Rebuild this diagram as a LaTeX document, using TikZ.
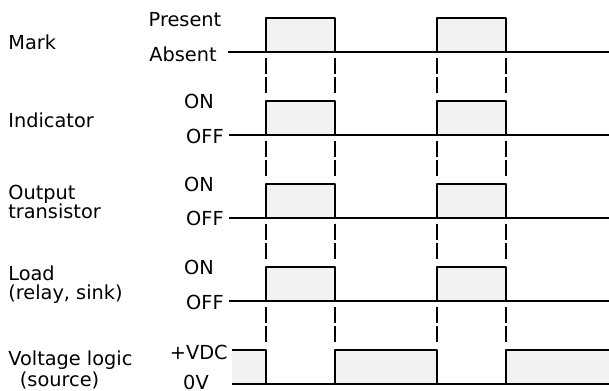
\documentclass[tikz,border=0pt]{standalone}
\usepackage{fontspec}
\setmainfont{DejaVu Sans}
\usepackage{tikz}
\usetikzlibrary{calc}

\tikzset{
  sig/.style={line width=0.9pt, line join=round},
  hifill/.style={fill=black!5},
  edgeline/.style={line width=0.85pt, dash pattern=on 9pt off 2pt,
    shorten <=3.4pt, shorten >=3.4pt},
  rowname/.style={anchor=west, inner sep=0pt, align=left,
    font=\fontsize{11}{13}\selectfont},
  level/.style={inner sep=0pt, font=\fontsize{11}{13}\selectfont}
}

\begin{document}
\begin{tikzpicture}[x=0.02cm,y=-0.02cm]
\useasboundingbox (0,0) rectangle (609,391);

% signal rows 1..4 (pulse while the mark is present)
\foreach \r/\y/\s in {1/52/228,2/135/229,3/218/229,4/301/229} {
  \fill[hifill] (266,\y) rectangle (335,\y-34);
  \fill[hifill] (437,\y) rectangle (506,\y-34);
  \draw[sig] (\s,\y) -- (609,\y);
  \draw[sig] (266,\y) -- (266,\y-34) -- (335,\y-34) -- (335,\y);
  \draw[sig] (437,\y) -- (437,\y-34) -- (506,\y-34) -- (506,\y);
  \foreach \e/\x in {1/266,2/335,3/437,4/506} {
    \coordinate (lo-\r-\e) at (\x,\y);
    \coordinate (hi-\r-\e) at (\x,\y-34);
  }
}

% voltage logic (source), inverted
\fill[hifill] (232,384) rectangle (266,350);
\fill[hifill] (335,384) rectangle (437,350);
\fill[hifill] (506,384) rectangle (609,350);
\draw[sig] (232,384) -- (609,384);
\draw[sig] (232,350) -- (266,350) -- (266,384);
\draw[sig] (335,384) -- (335,350) -- (437,350) -- (437,384);
\draw[sig] (506,384) -- (506,350) -- (609,350);
\foreach \e/\x in {1/266,2/335,3/437,4/506}
  \coordinate (hi-5-\e) at (\x,350);

% dashed timing marks
\foreach \r [evaluate=\r as \n using int(\r+1)] in {1,...,4}
  \foreach \e in {1,...,4}
    \draw[edgeline] (lo-\r-\e) -- (hi-\n-\e);

% labels
\node[rowname] (mark) at (8,42) {Mark};
\node[level] (present) at (185,20) {Present};
\node[level] (absent) at (183,54) {Absent};

\node[rowname] (indicator) at (8,120) {Indicator};
\node[level] (on-ind) at (199,101) {ON};
\node[level, anchor=east] (off-ind) at (224,136) {OFF};

\node[rowname] (output) at (8,202) {Output\\[-2pt]transistor};
\node[level] (on-out) at (199,184) {ON};
\node[level, anchor=east] (off-out) at (224,218) {OFF};

\node[rowname] (load) at (8,285) {Load\\[-2pt](relay, sink)};
\node[level] (on-load) at (199,267) {ON};
\node[level, anchor=east] (off-load) at (224,302) {OFF};

\node[rowname] (voltage) at (8,370) {Voltage logic\\[-1pt]\hspace{0.6em}(source)};
\node[level, anchor=east] (vdc) at (228,352) {+VDC};
\node[level] (zero) at (196,382) {0V};
\end{tikzpicture}
\end{document}
